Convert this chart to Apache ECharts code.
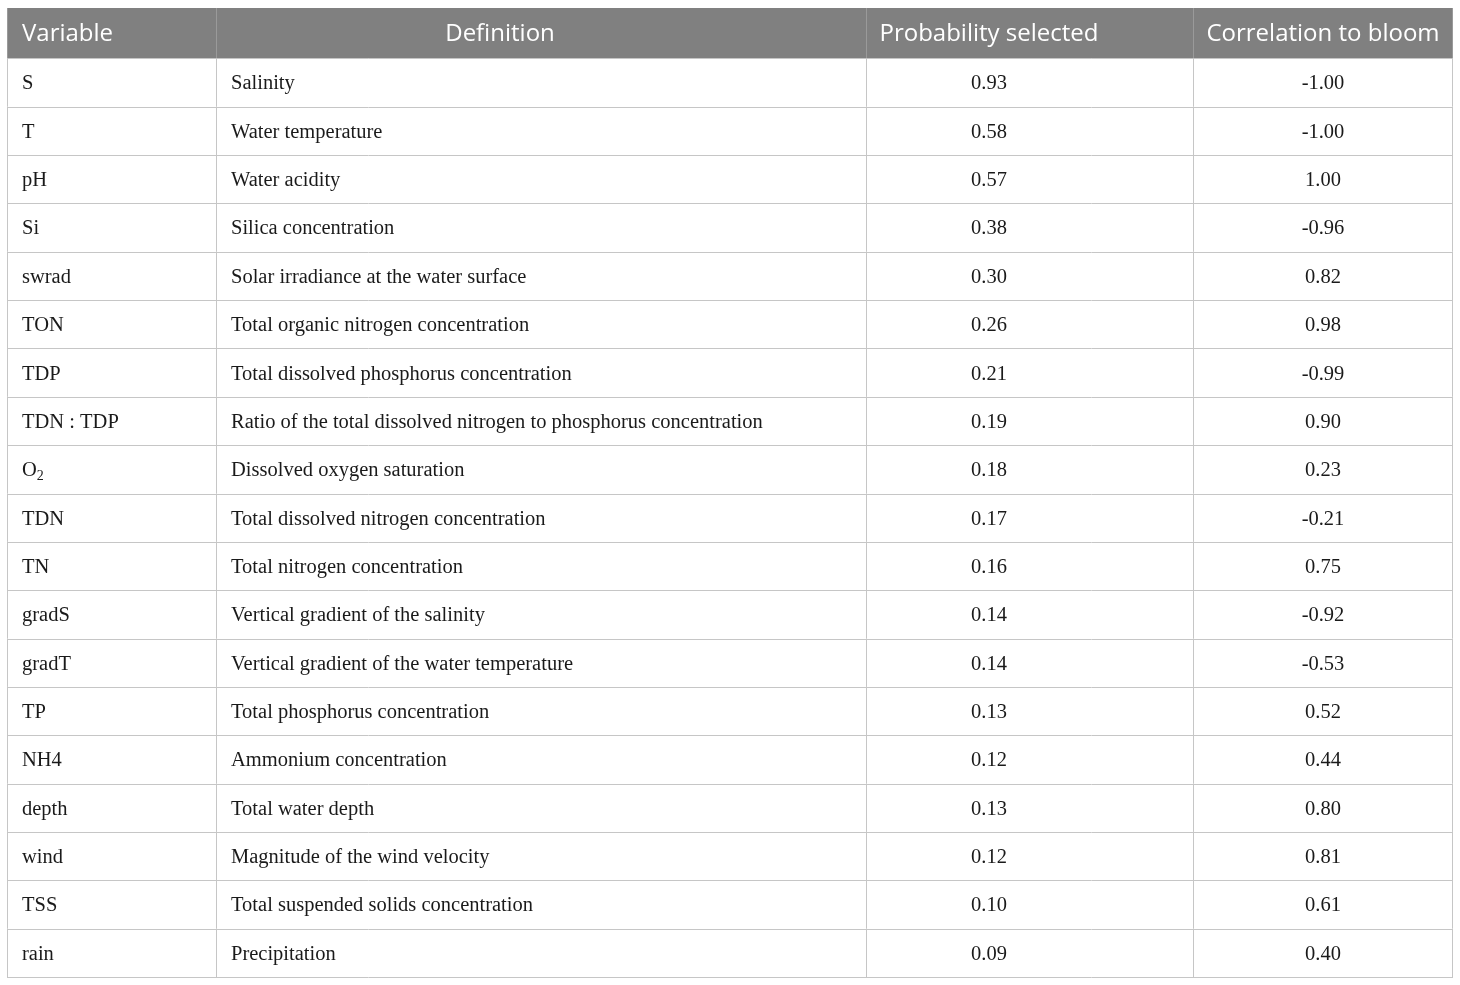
<!DOCTYPE html>
<html>
<head>
<meta charset="utf-8">
<script src="https://cdn.jsdelivr.net/npm/echarts@6/dist/echarts.min.js"></script>
<style>
    html, body { margin: 0; padding: 0; background: #fff; }
    #main { width: 1460px; height: 985px; }
</style>
</head>
<body>
<div id="main"></div>
<script>
// table content
var headers = ['Variable', 'Definition', 'Probability selected', 'Correlation to bloom'];
var variables = ['S', 'T', 'pH', 'Si', 'swrad', 'TON', 'TDP', 'TDN : TDP', 'O2', 'TDN', 'TN',
    'gradS', 'gradT', 'TP', 'NH4', 'depth', 'wind', 'TSS', 'rain'];
var definitions = [
    'Salinity',
    'Water temperature',
    'Water acidity',
    'Silica concentration',
    'Solar irradiance at the water surface',
    'Total organic nitrogen concentration',
    'Total dissolved phosphorus concentration',
    'Ratio of the total dissolved nitrogen to phosphorus concentration',
    'Dissolved oxygen saturation',
    'Total dissolved nitrogen concentration',
    'Total nitrogen concentration',
    'Vertical gradient of the salinity',
    'Vertical gradient of the water temperature',
    'Total phosphorus concentration',
    'Ammonium concentration',
    'Total water depth',
    'Magnitude of the wind velocity',
    'Total suspended solids concentration',
    'Precipitation'
];
var probability = [0.93, 0.58, 0.57, 0.38, 0.30, 0.26, 0.21, 0.19, 0.18, 0.17, 0.16,
    0.14, 0.14, 0.13, 0.12, 0.13, 0.12, 0.10, 0.09];
var correlation = [-1.00, -1.00, 1.00, -0.96, 0.82, 0.98, -0.99, 0.90, 0.23, -0.21, 0.75,
    -0.92, -0.53, 0.52, 0.44, 0.80, 0.81, 0.61, 0.40];

// layout of the columns, in pixels from the table's left edge
var colEdges = [0, 209, 859, 1186, 1445];
var headAnchor = [[15, 'left'], [493, 'center'], [982, 'center'], [1316, 'center']];
var bodyAnchor = [[15, 'left'], [224, 'left'], [982, 'center'], [1316, 'center']];

var rowNames = ['header'].concat(variables);

function cellText(row, col) {
    if (row === 0) return headers[col];
    var i = row - 1;
    if (col === 0) {
        // O2 gets a subscript
        if (variables[i] === 'O2') return '{n|O}{s|2}';
        return '{n|' + variables[i] + '}';
    }
    if (col === 1) return definitions[i];
    if (col === 2) return probability[i].toFixed(2);
    return correlation[i].toFixed(2);
}

function renderRow(params, api) {
    var row = api.value(0);
    var mid = api.coord([0, row]);
    var h = api.size([0, 1])[1];
    var top = mid[1] - h / 2;
    var x = colEdges.map(function (e) { return api.coord([e, row])[0]; });
    var children = [];
    var isHead = row === 0;
    var extra = isHead ? 2 : 0;   // header band is a bit taller at the top

    if (isHead) {
        children.push({
            type: 'rect',
            shape: { x: x[0], y: top - extra, width: x[4] - x[0] + 1, height: h + extra },
            style: { fill: '#808080' }
        });
    }
    // vertical borders
    for (var k = 0; k < x.length; k++) {
        children.push({
            type: 'line',
            shape: { x1: x[k] + 0.5, y1: top - extra, x2: x[k] + 0.5, y2: top + h },
            style: { stroke: isHead ? '#9a9a9a' : '#c6c6c6', lineWidth: 1 }
        });
    }
    // bottom border
    var by = Math.round(top + h) + 0.5;
    children.push({
        type: 'line',
        shape: { x1: x[0], y1: by, x2: x[4] + 1, y2: by },
        style: { stroke: '#c6c6c6', lineWidth: 1 }
    });

    var anchors = isHead ? headAnchor : bodyAnchor;
    for (var c = 0; c < 4; c++) {
        var ax = api.coord([anchors[c][0], row])[0];
        var txt = cellText(row, c);
        var style;
        if (isHead) {
            style = {
                text: txt, x: ax, y: mid[1] - extra / 2 + 1,
                align: anchors[c][1], verticalAlign: 'middle',
                fill: '#ffffff', fontFamily: 'Open Sans', fontSize: 24
            };
        } else if (c === 0) {
            style = {
                text: txt, x: ax, y: mid[1] + 1.5,
                align: 'left', verticalAlign: 'middle',
                fill: '#1a1a1a', fontFamily: 'Liberation Serif', fontSize: 20.5,
                rich: {
                    n: { fontFamily: 'Liberation Serif', fontSize: 20.5, fill: '#1a1a1a', lineHeight: 24 },
                    s: { fontFamily: 'Liberation Serif', fontSize: 14, fill: '#1a1a1a', lineHeight: 24, padding: [12, 0, 0, 0] }
                }
            };
        } else {
            style = {
                text: txt, x: ax, y: mid[1] + 1.5,
                align: anchors[c][1], verticalAlign: 'middle',
                fill: '#1a1a1a', fontFamily: 'Liberation Serif', fontSize: 20.5
            };
        }
        children.push({ type: 'text', style: style });
    }
    return { type: 'group', children: children };
}

var chart = echarts.init(document.getElementById('main'));
chart.setOption({
    animation: false,
    grid: { left: 7, right: 8, top: 10, bottom: 8 },
    xAxis: { type: 'value', min: 0, max: 1445, show: false },
    yAxis: { type: 'category', data: rowNames, inverse: true, show: false },
    series: [{
        type: 'custom',
        renderItem: renderRow,
        data: rowNames.map(function (n, i) { return [i]; }),
        encode: { y: 0 }
    }]
});
</script>
</body>
</html>
